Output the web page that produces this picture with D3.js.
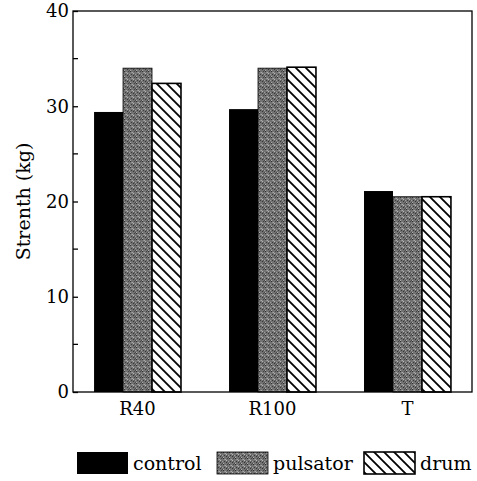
<!DOCTYPE html>
<html>
<head>
<meta charset="utf-8">
<script src="https://cdn.jsdelivr.net/npm/d3@7"></script>
<style>
  body { margin: 0; background: #fff; }
  text { font-family: "DejaVu Serif", serif; fill: #000; }
</style>
</head>
<body>
<svg id="chart" width="477" height="481"></svg>
<script>
// chart values
const categories = ["R40", "R100", "T"];
const seriesNames = ["control", "pulsator", "drum"];
const control  = [29.4, 29.7, 21.1];
const pulsator = [34.0, 34.0, 20.5];
const drum     = [32.4, 34.1, 20.5];
const yTicks = [0, 10, 20, 30, 40];
const yMinorTicks = [5, 15, 25, 35];

const seriesValues = { control, pulsator, drum };

const margin = { top: 11, right: 5, bottom: 89, left: 73 },
      width = 477 - margin.left - margin.right,
      height = 481 - margin.top - margin.bottom;

const svg = d3.select("#chart");

// fills: black, gray speckle, diagonal hatch
const defs = svg.append("defs");
const speck = defs.append("pattern")
    .attr("id", "speckle")
    .attr("patternUnits", "userSpaceOnUse")
    .attr("width", 6).attr("height", 6);
speck.append("rect").attr("width", 6).attr("height", 6).attr("fill", "#727272");
[[0,0,"#2e2e2e"],[2,1,"#aaaaaa"],[4,0,"#444"],[1,3,"#3a3a3a"],[3,2,"#b8b8b8"],
 [5,3,"#a0a0a0"],[0,5,"#b0b0b0"],[3,4,"#333"],[5,5,"#484848"],[1,1,"#8e8e8e"],[4,3,"#555"]]
  .forEach(([px, py, c]) => speck.append("rect")
      .attr("x", px).attr("y", py).attr("width", 1).attr("height", 1).attr("fill", c));

const hatch = defs.append("pattern")
    .attr("id", "hatch")
    .attr("patternUnits", "userSpaceOnUse")
    .attr("width", 10).attr("height", 10);
hatch.append("rect").attr("width", 10).attr("height", 10).attr("fill", "#fff");
hatch.append("path")
    .attr("d", "M-2,-2 L12,12 M-2,8 L2,12 M8,-2 L12,2")
    .attr("stroke", "#000").attr("stroke-width", 1.8);

const fills = { control: "#000", pulsator: "url(#speckle)", drum: "url(#hatch)" };

const g = svg.append("g")
    .attr("transform", `translate(${margin.left},${margin.top})`);

const x = d3.scaleBand()
    .domain(categories)
    .range([0, width])
    .paddingInner(0.356)
    .paddingOuter(0.156);

const xSub = d3.scaleBand()
    .domain(seriesNames)
    .range([0, x.bandwidth()]);

const y = d3.scaleLinear()
    .domain([0, 40])
    .range([height, 0]);

// bars
const groups = g.selectAll(".group")
    .data(categories)
    .enter().append("g")
    .attr("class", "group")
    .attr("transform", d => `translate(${x(d)},0)`);

groups.selectAll("rect")
    .data((c, i) => seriesNames.map(s => ({ s, v: seriesValues[s][i] })))
    .enter().append("rect")
    .attr("x", d => xSub(d.s))
    .attr("y", d => y(d.v))
    .attr("width", xSub.bandwidth())
    .attr("height", d => height - y(d.v))
    .attr("fill", d => fills[d.s])
    .attr("stroke", d => d.s === "control" ? "none" : "#000")
    .attr("stroke-width", d => d.s === "drum" ? 1.6 : 0.8);

// frame
g.append("rect")
    .attr("width", width)
    .attr("height", height)
    .attr("fill", "none")
    .attr("stroke", "#000")
    .attr("stroke-width", 1.3);

// y axis, ticks pointing inward
const yAxis = g.append("g")
    .call(d3.axisLeft(y).tickValues(yTicks).tickSize(-5).tickPadding(4).tickFormat(d3.format("d")));
yAxis.select(".domain").remove();
yAxis.selectAll("text").style("font-size", "18px");
yAxis.selectAll("line").attr("stroke-width", 1.3);

g.append("g")
    .selectAll("line")
    .data(yMinorTicks)
    .enter().append("line")
    .attr("x1", 0).attr("x2", 5)
    .attr("y1", d => y(d)).attr("y2", d => y(d))
    .attr("stroke", "#000").attr("stroke-width", 1.3);

// x axis labels
const xAxis = g.append("g")
    .attr("transform", `translate(0,${height})`)
    .call(d3.axisBottom(x).tickSize(0).tickPadding(10));
xAxis.select(".domain").remove();
xAxis.selectAll("text").style("font-size", "18px");

// y label
svg.append("text")
    .attr("text-anchor", "middle")
    .attr("transform", `translate(30,${margin.top + height / 2}) rotate(-90)`)
    .style("font-size", "19px")
    .text("Strenth (kg)");

// legend
const legendX = [77, 217, 364];
const legend = svg.append("g")
    .selectAll("g")
    .data(seriesNames)
    .enter().append("g")
    .attr("transform", (d, i) => `translate(${legendX[i]},452)`);

legend.append("rect")
    .attr("width", 51)
    .attr("height", 22)
    .attr("fill", d => fills[d])
    .attr("stroke", d => d === "control" ? "none" : "#000")
    .attr("stroke-width", d => d === "drum" ? 1.6 : 0.8);

legend.append("text")
    .attr("x", 56)
    .attr("y", 18)
    .style("font-size", "19px")
    .text(d => d);
</script>
</body>
</html>
